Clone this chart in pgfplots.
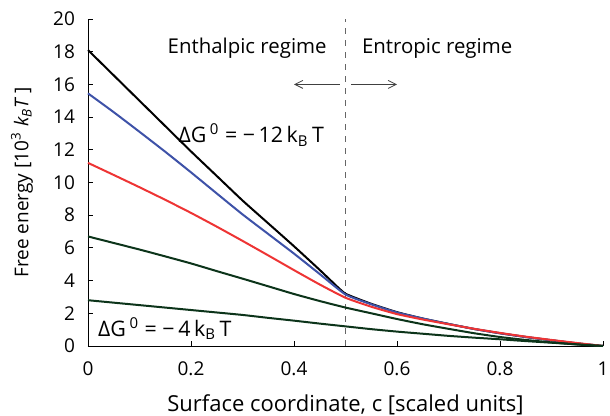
\documentclass[border=0pt]{standalone}
\usepackage{fontspec}
\setmainfont{Open Sans}
\usepackage{pgfplots}
\pgfplotsset{compat=1.18}
\usetikzlibrary{arrows.meta}
\definecolor{cblue}{RGB}{62,82,168}
\definecolor{cred}{RGB}{238,52,52}
\definecolor{cgreen}{RGB}{12,52,26}

\begin{document}
\begin{tikzpicture}
\begin{axis}[
  name=main,
  scale only axis,
  width=257.5pt,
  height=163.5pt,
  xmin=0, xmax=1,
  ymin=0, ymax=20,
  axis x line*=bottom,
  axis y line*=left,
  xtick={0,0.2,0.4,0.6,0.8,1},
  ytick={0,2,...,20},
  major tick length=2.5pt,
  tick style={black, thin},
  tick label style={font=\fontsize{9.5}{11}\selectfont},
  /pgf/number format/assume math mode=true,
  yticklabel style={xshift=-3pt},
  xticklabel style={yshift=-4.5pt},
  xlabel={Surface coordinate, c [scaled units]},
  ylabel={Free energy [10\textsuperscript{3} \textit{k}\textsubscript{\textit{B}}\textit{T}\,]},
  every axis x label/.style={at={(rel axis cs:0.5,0)}, yshift=-29.5pt, anchor=center,
    font=\fontsize{11}{13}\selectfont},
  every axis y label/.style={at={(rel axis cs:0,0.5)}, xshift=-33pt, rotate=90, anchor=center,
    font=\fontsize{9.5}{11}\selectfont},
  every axis plot/.append style={line width=1pt},
  clip=false,
]
% dashed divider
\addplot[black!60, dashed, line width=0.4pt] coordinates {(0.5,0) (0.5,20)};
% -12 kT
\addplot[black, smooth, tension=0.3] coordinates {
  (0,18.1) (0.05,16.55) (0.1,15.0) (0.15,13.45) (0.2,11.9) (0.25,10.4)
  (0.3,8.9) (0.35,7.5) (0.4,6.1) (0.45,4.65) (0.475,3.9) (0.5,3.2)
  (0.55,2.58) (0.6,2.07) (0.65,1.68) (0.7,1.35) (0.75,1.04) (0.8,0.78)
  (0.85,0.55) (0.9,0.35) (0.95,0.16) (1,0)
};
\addplot[cblue, smooth, tension=0.3] coordinates {
  (0,15.45) (0.05,14.3) (0.1,13.1) (0.15,11.88) (0.2,10.62) (0.25,9.33)
  (0.3,8.05) (0.35,6.85) (0.4,5.65) (0.45,4.4) (0.5,3.15)
  (0.55,2.55) (0.6,2.05) (0.65,1.68) (0.7,1.35) (0.75,1.04) (0.8,0.78)
  (0.85,0.55) (0.9,0.35) (0.95,0.16) (1,0)
};
\addplot[cred, smooth, tension=0.3] coordinates {
  (0,11.2) (0.05,10.46) (0.1,9.71) (0.15,8.94) (0.2,8.14) (0.25,7.3)
  (0.3,6.43) (0.35,5.54) (0.4,4.64) (0.45,3.76) (0.5,2.95)
  (0.55,2.4) (0.6,1.95) (0.65,1.62) (0.7,1.33) (0.75,1.05) (0.8,0.8)
  (0.85,0.57) (0.9,0.37) (0.95,0.18) (1,0)
};
\addplot[cgreen, smooth, tension=0.3] coordinates {
  (0,6.7) (0.05,6.3) (0.1,5.9) (0.15,5.48) (0.2,5.05) (0.25,4.58)
  (0.3,4.12) (0.35,3.65) (0.4,3.18) (0.45,2.75) (0.5,2.35)
  (0.55,2.0) (0.6,1.65) (0.65,1.33) (0.7,1.05) (0.75,0.78) (0.8,0.55)
  (0.85,0.37) (0.9,0.22) (0.95,0.09) (1,0)
};
% -4 kT
\addplot[cgreen, smooth, tension=0.3] coordinates {
  (0,2.8) (0.05,2.65) (0.1,2.5) (0.15,2.35) (0.2,2.2) (0.25,2.05)
  (0.3,1.9) (0.35,1.72) (0.4,1.55) (0.45,1.37) (0.5,1.2)
  (0.55,1.03) (0.6,0.88) (0.65,0.75) (0.7,0.62) (0.75,0.51) (0.8,0.41)
  (0.85,0.3) (0.9,0.2) (0.95,0.1) (1,0)
};
\node[font=\fontsize{10.2}{12}\selectfont] at (axis cs:0.309,18.2) {Enthalpic regime};
\node[font=\fontsize{10.2}{12}\selectfont] at (axis cs:0.678,18.2) {Entropic regime};
\draw[black!75, thin, -{Straight Barb[length=4pt,width=4pt]}] (axis cs:0.489,16) -- (axis cs:0.40,16);
\draw[black!75, thin, -{Straight Barb[length=4pt,width=4pt]}] (axis cs:0.511,16) -- (axis cs:0.60,16);
\node[anchor=west, inner sep=0pt, font=\fontsize{10.7}{12}\selectfont] at (axis cs:0.175,12.9)
  {ΔG\,\textsuperscript{0} = −\,12\,k\textsubscript{B}\,T};
\node[anchor=west, inner sep=0pt, font=\fontsize{10.7}{12}\selectfont] at (axis cs:0.019,1.05)
  {ΔG\,\textsuperscript{0} = −\,4\,k\textsubscript{B}\,T};
\end{axis}
\pgfresetboundingbox
\useasboundingbox ([shift={(-44pt,-35pt)}]main.south west) rectangle ([shift={(3.5pt,9.5pt)}]main.north east);
\end{tikzpicture}
\end{document}
